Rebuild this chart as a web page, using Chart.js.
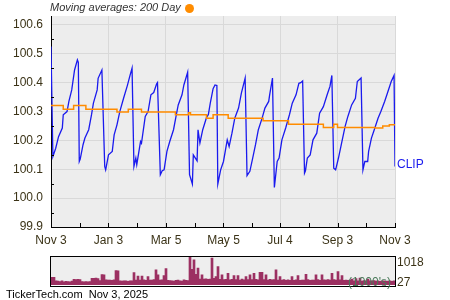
<!DOCTYPE html>
<html>
<head>
<meta charset="utf-8">
<script src="https://cdn.jsdelivr.net/npm/chart.js@4"></script>
<style>
  body { margin: 0; width: 450px; height: 300px; background: #fff; position: relative; overflow: hidden; font-family: "Liberation Sans", Arial, sans-serif; }
  .abs { position: absolute; white-space: nowrap; line-height: 14px; }
  #main { position: absolute; left: 0; top: 0; width: 450px; height: 250px; }
  #vol { position: absolute; left: 0; top: 250px; width: 450px; height: 50px; }
</style>
</head>
<body>
<div id="main"><canvas id="priceChart"></canvas></div>
<div id="vol"><canvas id="volChart"></canvas></div>

<div class="abs" style="left:50px; top:0; font-size:11px; font-style:italic; color:#333;">Moving averages: 200 Day</div>
<div class="abs" style="left:185px; top:3.5px; width:9px; height:9px; border-radius:50%; background:#ff8c00;"></div>
<div class="abs" style="left:397px; top:156.5px; font-size:12px; color:#1a1aee;">CLIP</div>
<div class="abs" style="left:397px; top:255px; font-size:12px; color:#3b3317;">1018</div>
<div class="abs" style="left:397px; top:275px; font-size:12px; color:#3b3317;">27</div>
<div class="abs" style="left:348px; top:275px; font-size:12px; color:#4a7a5a;">(1000's)</div>
<div class="abs" style="left:6px; top:287px; font-size:11px; color:#000;">TickerTech.com&nbsp;&nbsp;Nov 3, 2025</div>

<script>
// --- 資料區 ---
// x = days since Nov 3, 2024
const xTickDays = [0, 61, 122, 183, 243, 304, 365];
const xTickLabels = ['Nov 3', 'Jan 3', 'Mar 5', 'May 5', 'Jul 4', 'Sep 3', 'Nov 3'];
const yTickValues = [99.9, 100.0, 100.1, 100.2, 100.3, 100.4, 100.5, 100.6];
const yTickLabels = ['99.9', '100.0', '100.1', '100.2', '100.3', '100.4', '100.5', '100.6'];

const priceDays = [
  0, 2, 5, 8, 12, 13, 17, 19, 22, 25, 28, 29, 30,
  31, 34, 36, 40, 43, 45, 49, 50, 54, 57, 58,
  61, 65, 67, 70, 73, 77, 81, 84, 86, 88, 90, 91,
  95, 96, 100, 103, 106, 109, 112, 113, 116,
  118, 120, 123, 126, 130, 133, 135, 139, 141, 145, 147, 150,
  151, 155, 156, 158, 161, 165, 167, 169, 172, 174, 176, 177,
  180, 183, 187, 189, 192, 195, 199, 202, 206, 208,
  211, 214, 217, 220, 224, 227, 231, 232, 235, 237,
  240, 242, 245, 249, 253, 256, 260, 263, 265, 267, 269,
  270, 272, 275, 278, 282, 285, 289, 293, 296, 298, 300, 302,
  305, 308, 312, 315, 319, 323, 325, 329, 331,
  333, 336, 337, 340, 343, 347, 350, 354, 357, 361, 364, 365
];
const priceValues = [
  100.525, 100.144, 100.173, 100.213, 100.243, 100.289, 100.300, 100.335, 100.375, 100.444, 100.479, 100.470, 100.127,
  100.135, 100.185, 100.208, 100.237, 100.289, 100.329, 100.375, 100.415, 100.444, 100.110, 100.098,
  100.150, 100.162, 100.219, 100.254, 100.300, 100.346, 100.390, 100.427, 100.450, 100.110, 100.139, 100.116,
  100.196, 100.190, 100.283, 100.300, 100.358, 100.366, 100.395, 100.400, 100.081,
  100.095, 100.098, 100.162, 100.196, 100.237, 100.289, 100.323, 100.358, 100.392, 100.436, 100.081, 100.049,
  100.150, 100.129, 100.237, 100.191, 100.237, 100.279, 100.290, 100.329, 100.379, 100.392, 100.390, 100.049,
  100.098, 100.127, 100.202, 100.179, 100.225, 100.277, 100.312, 100.364, 100.416, 100.078,
  100.093, 100.139, 100.185, 100.237, 100.277, 100.312, 100.335, 100.358, 100.416, 100.037,
  100.127, 100.139, 100.202, 100.243, 100.289, 100.329, 100.358, 100.398, 100.400, 100.406, 100.087,
  100.095, 100.139, 100.150, 100.202, 100.225, 100.294, 100.317, 100.358, 100.387, 100.425, 100.104, 100.098,
  100.139, 100.185, 100.248, 100.283, 100.323, 100.346, 100.404, 100.416, 100.098,
  100.127, 100.127, 100.162, 100.208, 100.237, 100.277, 100.300, 100.335, 100.364, 100.404, 100.425, 100.110
];

// 200 日均線 (階梯)
const maDays = [0, 13, 24, 37, 70, 82, 96, 132, 146, 148, 165, 172, 188, 225, 252, 289, 300, 304, 344, 352, 359, 365];
const maValues = [100.321, 100.308, 100.321, 100.308, 100.298, 100.308, 100.298, 100.289, 100.296, 100.289, 100.277,
  100.289, 100.277, 100.268, 100.256, 100.245, 100.256, 100.245, 100.243, 100.250, 100.254, 100.254];

// 成交量 (千股)
const volumes = [
  275, 270, 150, 140, 120, 145, 110, 135, 125, 115,
  140, 200, 195, 205, 190, 120, 115, 125, 110, 120,
  240, 235, 245, 230, 160, 370, 360, 185, 175, 180,
  170, 185, 515, 505, 150, 140, 145, 150, 135, 145,
  150, 445, 175, 320, 180, 320, 185, 170, 300, 175,
  180, 190, 540, 360, 175, 185, 340, 590, 170, 160,
  150, 140, 165, 180, 150, 140, 185, 170, 160, 1018,
  560, 900, 385, 600, 215, 360, 215, 220, 200, 210,
  960, 240, 300, 660, 200, 360, 190, 205, 420, 185,
  200, 340, 190, 340, 180, 210, 185, 300, 195, 360,
  190, 420, 200, 185, 455, 450, 195, 360, 180, 200,
  185, 195, 540, 180, 300, 175, 190, 170, 185, 165,
  300, 170, 185, 340, 165, 180, 175, 385, 190, 170,
  180, 175, 360, 190, 170, 360, 185, 175, 190, 180,
  420, 190, 180, 480, 185, 340, 170, 180, 165, 175,
  210, 150, 230, 145, 250, 140, 160, 150, 210, 145,
  150, 160, 140, 150, 135, 145, 150, 130, 140, 150, 135, 150
];

const TICK_FONT = { family: '"Liberation Sans", Arial, sans-serif', size: 12 };
const TICK_COLOR = '#3b3317';

// --- 繪圖背景與小刻度 ---
const priceDecor = {
  id: 'priceDecor',
  beforeDraw(chart) {
    const { ctx, chartArea: a } = chart;
    ctx.save();
    ctx.fillStyle = '#ededed';
    ctx.fillRect(a.left, a.top, a.right - a.left, a.bottom - a.top);
    ctx.restore();
  },
  afterDraw(chart) {
    const { ctx, chartArea: a, scales } = chart;
    ctx.save();
    ctx.strokeStyle = '#000';
    ctx.lineWidth = 1;
    ctx.beginPath();
    for (let i = 0; i < xTickDays.length; i++) {
      const px = Math.round(scales.x.getPixelForValue(xTickDays[i])) + 0.5;
      ctx.moveTo(px, a.bottom - 4); ctx.lineTo(px, a.bottom);
      if (i < xTickDays.length - 1) {
        const mx = Math.round(scales.x.getPixelForValue((xTickDays[i] + xTickDays[i + 1]) / 2)) + 0.5;
        ctx.moveTo(mx, a.bottom - 4); ctx.lineTo(mx, a.bottom);
      }
    }
    for (let i = 0; i < yTickValues.length; i++) {
      const v = i < yTickValues.length - 1 ? (yTickValues[i] + yTickValues[i + 1]) / 2 : yTickValues[i] + 0.05 > scales.y.max ? null : yTickValues[i] + 0.05;
      if (v === null) continue;
      const py = Math.round(scales.y.getPixelForValue(v)) + 0.5;
      ctx.moveTo(a.left, py); ctx.lineTo(a.left + 3, py);
    }
    ctx.stroke();
    ctx.restore();
  }
};

const volDecor = {
  id: 'volDecor',
  beforeDraw(chart) {
    const { ctx, chartArea: a } = chart;
    ctx.save();
    ctx.fillStyle = '#eeeeee';
    ctx.fillRect(a.left, a.top, a.right - a.left, a.bottom - a.top);
    ctx.restore();
  },
  afterDraw(chart) {
    const { ctx, chartArea: a } = chart;
    ctx.save();
    ctx.strokeStyle = '#000';
    ctx.lineWidth = 1;
    ctx.strokeRect(Math.round(a.left) - 0.5, Math.round(a.top) - 0.5, Math.round(a.right - a.left) + 1, Math.round(a.bottom - a.top) + 1);
    ctx.restore();
  }
};

// --- 價格圖 ---
new Chart(document.getElementById('priceChart'), {
  type: 'line',
  data: {
    datasets: [
      {
        label: '200 Day',
        data: maDays.map((d, i) => ({ x: d, y: maValues[i] })),
        borderColor: '#ff8c00',
        borderWidth: 1.5,
        stepped: true,
        pointRadius: 0,
        order: 0
      },
      {
        label: 'CLIP',
        data: priceDays.map((d, i) => ({ x: d, y: priceValues[i] })),
        borderColor: '#1a1aee',
        borderWidth: 1.3,
        tension: 0,
        pointRadius: 0,
        order: 1
      }
    ]
  },
  options: {
    responsive: true,
    maintainAspectRatio: false,
    animation: false,
    layout: { padding: { left: 0, right: 55, top: 16, bottom: 0 } },
    plugins: { legend: { display: false }, tooltip: { enabled: false } },
    scales: {
      x: {
        type: 'linear',
        min: 0,
        max: 365,
        afterBuildTicks: s => { s.ticks = xTickDays.map(v => ({ value: v })); },
        afterFit: s => { s.height = 23; },
        ticks: {
          callback: (v, i) => xTickLabels[i],
          autoSkip: false,
          maxRotation: 0,
          padding: 6,
          color: TICK_COLOR,
          font: TICK_FONT
        },
        grid: { color: '#d9d9d9', drawTicks: false },
        border: { color: '#000', width: 1 }
      },
      y: {
        min: 99.9,
        max: 100.631,
        afterBuildTicks: s => { s.ticks = yTickValues.map(v => ({ value: v })); },
        afterFit: s => { s.width = 51; },
        ticks: {
          callback: (v, i) => yTickLabels[i],
          padding: 8,
          color: TICK_COLOR,
          font: TICK_FONT
        },
        grid: { color: '#d9d9d9', drawTicks: false },
        border: { color: '#000', width: 1 }
      }
    }
  },
  plugins: [priceDecor]
});

// --- 成交量圖 ---
new Chart(document.getElementById('volChart'), {
  type: 'bar',
  data: {
    labels: volumes.map((_, i) => i),
    datasets: [{
      data: volumes,
      backgroundColor: '#9c3062',
      borderWidth: 0,
      barPercentage: 1,
      categoryPercentage: 1
    }]
  },
  options: {
    responsive: true,
    maintainAspectRatio: false,
    animation: false,
    layout: { padding: { left: 51, right: 55, top: 6.5, bottom: 15 } },
    plugins: { legend: { display: false }, tooltip: { enabled: false } },
    scales: {
      x: { display: false },
      y: { display: false, min: 0, max: 1018 }
    }
  },
  plugins: [volDecor]
});
</script>
</body>
</html>
